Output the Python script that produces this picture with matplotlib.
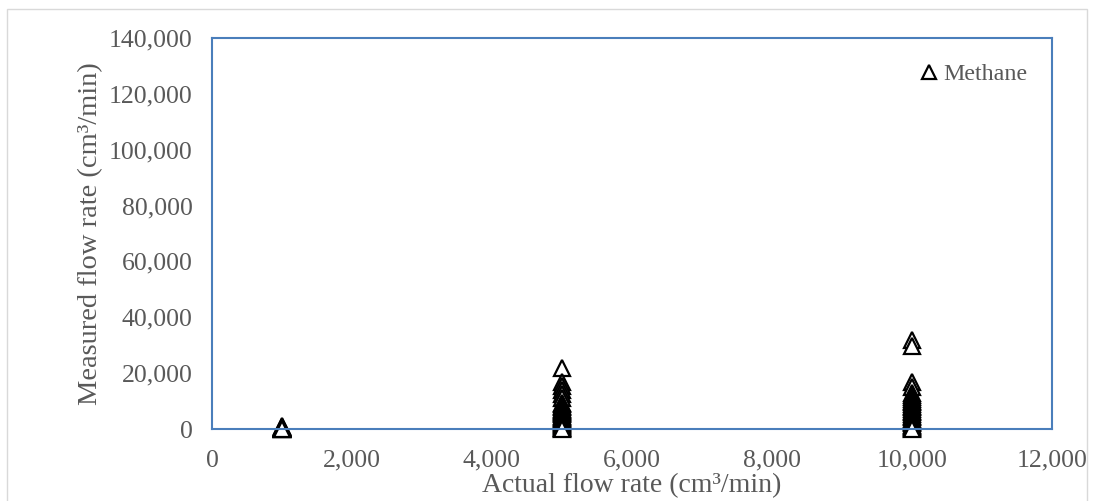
import matplotlib
matplotlib.use('Agg')
import matplotlib.pyplot as plt
from matplotlib.patches import Rectangle
from matplotlib.ticker import FuncFormatter

plt.rcParams['font.family'] = ['Liberation Serif', 'DejaVu Serif']

# methane readings grouped by actual flow rate
actual_1000 = 1000
measured_1000 = [900, 800, 700, 600, 500, 450, 400, 350, 300, 250, 200, 150, 100, 50, 0]

actual_5000 = 5000
measured_5000 = [22000, 16800, 15300, 13900, 12500, 11000, 9300, 8800, 8200,
                 7800, 7300, 6900, 6400, 6000, 5600, 5200, 4800, 4400, 4000,
                 3600, 3200, 2800, 2400, 2000, 1700, 1400, 1100, 800, 500, 250, 0]

actual_10000 = 10000
measured_10000 = [31800, 29600, 16800, 15200, 12800, 12000, 11400, 10800, 10200,
                  9600, 9000, 8400, 7800, 7200, 6600, 6000, 5400, 4800, 4200,
                  3600, 3000, 2500, 2000, 1500, 1000, 600, 300, 0]

xs = ([actual_1000] * len(measured_1000) + [actual_5000] * len(measured_5000)
      + [actual_10000] * len(measured_10000))
ys = measured_1000 + measured_5000 + measured_10000

grey = '#595959'
blue = '#4a7ebb'

fig = plt.figure(figsize=(10.94, 5.01), dpi=100)
ax = fig.add_axes([212 / 1094, 1 - 429 / 501, 840 / 1094, 391 / 501])

ax.plot(xs, ys, linestyle='none', marker='^', markersize=11,
        markerfacecolor='white', markeredgecolor='black', markeredgewidth=1.6,
        label='Methane', clip_on=False)

ax.set_xlim(0, 12000)
ax.set_ylim(0, 140000)
ax.set_xticks(range(0, 12001, 2000))
ax.set_yticks(range(0, 140001, 20000))
fmt = FuncFormatter(lambda v, p: f'{int(v):,}')
ax.xaxis.set_major_formatter(fmt)
ax.yaxis.set_major_formatter(fmt)
ax.tick_params(length=0, labelsize=18.5, colors=grey)
ax.tick_params(axis='y', pad=14)
ax.tick_params(axis='x', pad=15)

for s in ax.spines.values():
    s.set_color(blue)
    s.set_linewidth(1.5)

ax.set_xlabel('Actual flow rate (cm³/min)', fontsize=20, color=grey, labelpad=1)
ax.set_ylabel('Measured flow rate (cm³/min)', fontsize=20.5, color=grey, labelpad=4)

leg = ax.legend(loc='upper right', bbox_to_anchor=(0.997, 0.99), frameon=False,
                fontsize=17.3, handletextpad=0.2, handlelength=0.8,
                markerscale=0.9, labelcolor=grey)

fig.patches.append(Rectangle((7 / 1094, -0.05), 1080 / 1094, 1 - 9 / 501 + 0.05,
                             transform=fig.transFigure, fill=False,
                             edgecolor='#d9d9d9', linewidth=1.0))

plt.savefig('out.png', dpi=100)
